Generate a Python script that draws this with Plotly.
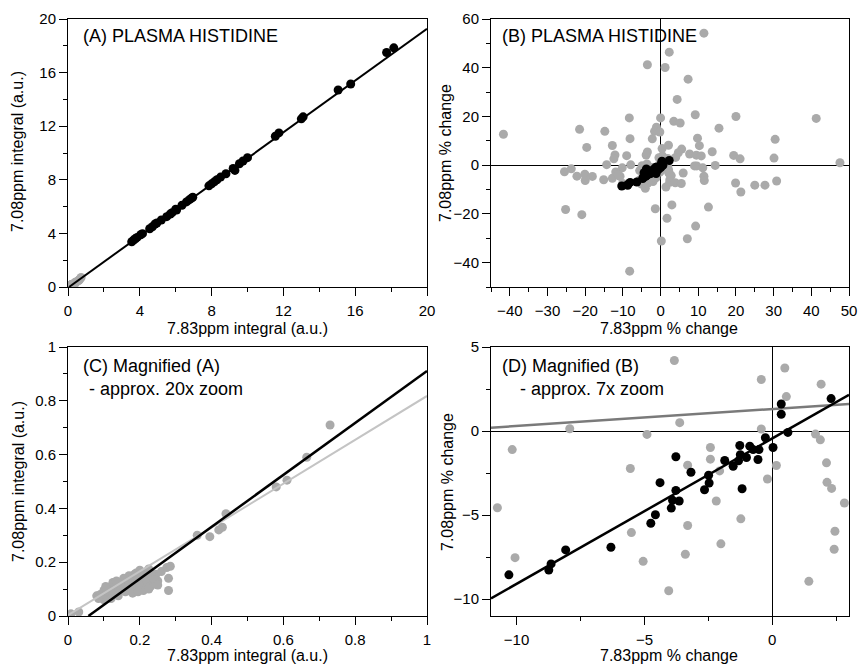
import plotly.graph_objects as go

# ---------------- DATA ----------------
# Panel A/C: integrals (a.u.)
black_int_x = [3.55, 3.65, 3.75, 3.85, 4.05, 4.15, 4.55, 4.7, 4.85, 4.95, 5.2, 5.5, 5.7, 5.8, 6.0, 6.05,
               6.35, 6.6, 6.75, 6.85, 6.95, 7.85, 8.0, 8.15, 8.3, 8.5, 8.8, 9.2, 9.3, 9.55, 9.75, 10.0,
               11.55, 11.75, 13.0, 13.1, 15.05, 15.75, 17.75, 18.15]
black_int_y = [3.38, 3.5, 3.6, 3.7, 3.9, 3.98, 4.35, 4.5, 4.7, 4.78, 5.0, 5.25, 5.45, 5.55, 5.8, 5.75,
               6.1, 6.35, 6.5, 6.6, 6.7, 7.55, 7.7, 7.85, 8.0, 8.2, 8.45, 8.85, 8.7, 9.2, 9.4, 9.65,
               11.25, 11.5, 12.55, 12.7, 14.7, 15.15, 17.5, 17.85]

gray_int_x = [0.0, 0.008, 0.03,
              0.08, 0.09, 0.095, 0.10, 0.10, 0.105, 0.11, 0.11, 0.115, 0.12, 0.12, 0.125, 0.13, 0.13,
              0.135, 0.14, 0.14, 0.145, 0.15, 0.15, 0.155, 0.16, 0.16, 0.165, 0.17, 0.17, 0.175, 0.18,
              0.18, 0.185, 0.19, 0.19, 0.195, 0.20, 0.20, 0.205, 0.21, 0.21, 0.215, 0.22, 0.22, 0.225,
              0.23, 0.235, 0.24, 0.245, 0.25, 0.18, 0.19, 0.14, 0.16, 0.17, 0.12, 0.10, 0.20, 0.21,
              0.155, 0.125, 0.135, 0.195, 0.23, 0.24, 0.085, 0.105, 0.225, 0.25,
              0.26, 0.275, 0.285, 0.28, 0.28, 0.36, 0.395, 0.42, 0.43, 0.44, 0.58, 0.61, 0.665, 0.73]
gray_int_y = [0.0, 0.008, 0.015,
              0.075, 0.08, 0.07, 0.085, 0.095, 0.075, 0.09, 0.105, 0.08, 0.095, 0.11, 0.085, 0.10, 0.115,
              0.09, 0.12, 0.105, 0.095, 0.11, 0.125, 0.10, 0.12, 0.135, 0.105, 0.15, 0.115, 0.13, 0.14,
              0.12, 0.155, 0.16, 0.13, 0.145, 0.17, 0.125, 0.15, 0.14, 0.16, 0.12, 0.15, 0.13, 0.175,
              0.11, 0.14, 0.12, 0.155, 0.13, 0.085, 0.10, 0.075, 0.09, 0.095, 0.065, 0.06, 0.11, 0.095,
              0.14, 0.125, 0.13, 0.09, 0.16, 0.135, 0.065, 0.11, 0.10, 0.115,
              0.165, 0.18, 0.185, 0.14, 0.095, 0.30, 0.295, 0.32, 0.33, 0.38, 0.48, 0.505, 0.59, 0.71]

# Fit lines (slope, intercept)
black_int_fit = (0.966, -0.055)
gray_int_fit = (0.815, 0.003)

# Panel B/D: % change
black_pct_x = [-10.3, -8.74, -8.65, -8.08, -6.31, -4.75, -4.57, -4.39, -3.95, -3.90, -3.77, -3.77, -3.64,
               -3.18, -2.65, -2.49, -2.47, -1.86, -1.53, -1.32, -1.27, -1.25, -1.18, -1.01, -0.88, -0.75,
               -0.56, -0.52, -0.27, 0.03, 0.35, 0.35, 0.61, 2.30]
black_pct_y = [-8.55, -8.27, -7.9, -7.07, -6.91, -5.48, -4.98, -3.07, -4.58, -4.12, -3.53, -1.53, -4.16,
               -2.45, -3.49, -2.63, -3.09, -1.75, -2.09, -1.77, -0.86, -1.41, -3.43, -1.57, -0.90, -1.10,
               -1.69, -1.10, -0.40, -0.98, 1.61, 1.0, -0.08, 1.93]

gray_pct_x = [-10.75, -10.17, -10.06, -7.92, -5.55, -5.51, -5.05, -4.90, -4.05, -3.83, -3.62, -3.40, -3.31,
              -3.31, -2.42, -2.42, -2.19, -2.06, -2.01, -1.23, -0.43, -0.43, -0.19, 0.16, 0.49, 0.55,
              1.43, 1.69, 1.88, 1.91, 2.12, 2.14, 2.32, 2.45, 2.42, 2.82,
              11.5, 2.3, -3.5, 1.2, 7.3, 4.4, -8.3, 0.0, 9.2, 20.0, 41.3, 3.5, 5.2, -21.5, -1.1, -1.6,
              -0.2, 15.5, -14.8, -41.7, -8.1, -2.2, 9.8, 30.4, -12.8, -19.6, 2.1, 10.3, -3.5, -9.0,
              -12.1, -12.4, 5.6, 4.7, 7.7, 9.5, 10.8, 13.7, 0.4, 4.0, 19.4, 21.1, 30.1, 47.6, -14.3,
              9.0, 9.6, 11.2, 14.5, -25.5, -23.7, -22.2, -20.1, -18.1, -20.0, -15.1, -12.8, -11.9,
              -11.2, 6.0, 3.9, 5.5, 11.5, 11.6, 19.9, 21.3, 25.0, 27.7, 30.8, -1.4, 3.0, 12.7, -25.2,
              -20.9, 1.7, 9.3, 7.1, 0.2, -8.2]
gray_pct_y = [-4.56, -1.10, -7.53, 0.14, -2.23, -6.04, -7.75, -0.20, -9.50, 4.20, 0.50, -7.33, -2.03,
              -5.62, -0.98, -1.67, -4.16, -2.37, -6.71, -5.22, 3.07, 0.12, -2.85, -2.05, 3.75, 2.05,
              -8.94, -0.18, -0.52, 2.79, -1.89, -3.05, -3.41, -5.96, -7.03, -4.28,
              54.2, 46.4, 41.2, 40.1, 35.3, 27.0, 19.4, 19.4, 20.7, 20.0, 19.2, 18.0, 17.3, 14.7, 15.6,
              13.9, 13.6, 15.2, 13.9, 12.7, 10.9, 10.8, 11.1, 10.6, 8.1, 7.3, 8.2, 8.0, 5.4, 3.9,
              4.2, 2.6, 6.6, 5.1, 4.6, 4.1, 3.8, 5.5, 6.8, 3.2, 4.0, 2.6, 2.9, 1.0, 0.2,
              -0.3, -0.3, -1.1, -0.1, -2.7, -1.5, -4.5, -3.7, -4.6, -6.3, -6.0, -5.4, -2.8,
              -4.1, -3.2, -7.2, -7.5, -4.5, -6.3, -7.3, -11.0, -8.2, -8.2, -6.5, -17.9, -16.3, -17.2, -18.2,
              -20.3, -21.8, -25.0, -30.2, -31.1, -43.5]

black_pct_fit = (0.865, -0.44)
gray_pct_fit = (0.101, 1.31)

# Axis ranges / ticks
A_range, A_dtick, A_minor = [0, 20], 4, 2
B_xrange, B_yrange = [-45, 50], [-50, 60]
C_range = [0, 1]
D_xrange, D_yrange = [-11, 3], [-11, 5]

# Texts
panel_titles = ["(A) PLASMA HISTIDINE", "(B) PLASMA HISTIDINE", "(C) Magnified (A)", "- approx. 20x zoom",
                "(D) Magnified (B)", "- approx. 7x zoom"]
x_titles = ["7.83ppm integral (a.u.)", "7.83ppm % change", "7.83ppm integral (a.u.)", "7.83ppm % change"]
y_titles = ["7.08ppm integral (a.u.)", "7.08ppm % change", "7.08ppm integral (a.u.)", "7.08ppm % change"]

GRAY = "#aaaaaa"
FONT = "Liberation Sans, Arial, Helvetica, sans-serif"

W, H = 859, 665


def px_dom(a, b, total):
    return [a / total, b / total]


def ydom(top, bottom):
    return [1 - bottom / H, 1 - top / H]


def axis(rng, dtick, minor, dom, anchor, zero=False, is_x=True):
    d = dict(
        range=rng, domain=dom, anchor=anchor, dtick=dtick, tick0=0,
        showline=True, linecolor="black", linewidth=1, mirror=True,
        ticks="outside", ticklen=8, tickwidth=1, tickcolor="black",
        minor=dict(dtick=minor, tick0=0, ticks="outside", ticklen=4, tickwidth=1, tickcolor="black", showgrid=False),
        showgrid=False, zeroline=zero, zerolinecolor="black", zerolinewidth=1,
        tickfont=dict(size=15, color="black", family=FONT),
        automargin=False, fixedrange=True,
    )
    if is_x:
        d["ticklabelstandoff"] = 2
    return d


def line_pts(fit, xr):
    m, c = fit
    return xr, [m * xr[0] + c, m * xr[1] + c]


fig = go.Figure()
mk = dict(size=9, line=dict(width=0))

# Panel A
fig.add_trace(go.Scatter(x=gray_int_x, y=gray_int_y, mode="markers", marker=dict(color=GRAY, **mk), xaxis="x", yaxis="y"))
lx, ly = line_pts(black_int_fit, [-black_int_fit[1] / black_int_fit[0], 20])
fig.add_trace(go.Scatter(x=lx, y=ly, mode="lines", line=dict(color="black", width=2), xaxis="x", yaxis="y"))
fig.add_trace(go.Scatter(x=black_int_x, y=black_int_y, mode="markers", marker=dict(color="black", **mk), xaxis="x", yaxis="y"))

# Panel B
fig.add_trace(go.Scatter(x=gray_pct_x, y=gray_pct_y, mode="markers", marker=dict(color=GRAY, **mk), xaxis="x2", yaxis="y2"))
fig.add_trace(go.Scatter(x=black_pct_x, y=black_pct_y, mode="markers", marker=dict(color="black", **mk), xaxis="x2", yaxis="y2"))

# Panel C
fig.add_trace(go.Scatter(x=gray_int_x, y=gray_int_y, mode="markers", marker=dict(color=GRAY, **mk), xaxis="x3", yaxis="y3"))
lx, ly = line_pts(gray_int_fit, [0, 1])
fig.add_trace(go.Scatter(x=lx, y=ly, mode="lines", line=dict(color="#c4c4c4", width=2), xaxis="x3", yaxis="y3"))
lx, ly = line_pts(black_int_fit, [-black_int_fit[1] / black_int_fit[0], 1])
fig.add_trace(go.Scatter(x=lx, y=ly, mode="lines", line=dict(color="black", width=2.5), xaxis="x3", yaxis="y3"))

# Panel D
fig.add_trace(go.Scatter(x=gray_pct_x, y=gray_pct_y, mode="markers", marker=dict(color=GRAY, **mk), xaxis="x4", yaxis="y4"))
lx, ly = line_pts(gray_pct_fit, D_xrange)
fig.add_trace(go.Scatter(x=lx, y=ly, mode="lines", line=dict(color="#7a7a7a", width=2.5), xaxis="x4", yaxis="y4"))
lx, ly = line_pts(black_pct_fit, D_xrange)
fig.add_trace(go.Scatter(x=lx, y=ly, mode="lines", line=dict(color="black", width=2.5), xaxis="x4", yaxis="y4"))
fig.add_trace(go.Scatter(x=black_pct_x, y=black_pct_y, mode="markers", marker=dict(color="black", **mk), xaxis="x4", yaxis="y4"))

dA_x = px_dom(68, 427, W)
dB_x = px_dom(491, 849, W)
d_top = ydom(19, 287)
d_bot = ydom(347, 616)

fig.update_layout(
    width=W, height=H, margin=dict(l=0, r=0, t=0, b=0, pad=0, autoexpand=False),
    paper_bgcolor="white", plot_bgcolor="white", showlegend=False,
    font=dict(family=FONT, color="black"),
    xaxis=axis(A_range, A_dtick, A_minor, dA_x, "y"),
    yaxis=axis(A_range, A_dtick, A_minor, d_top, "x", is_x=False),
    xaxis2=axis(B_xrange, 10, 5, dB_x, "y2", zero=True),
    yaxis2=axis(B_yrange, 20, 10, d_top, "x2", zero=True, is_x=False),
    xaxis3=axis(C_range, 0.2, 0.1, dA_x, "y3"),
    yaxis3=axis(C_range, 0.2, 0.1, d_bot, "x3", is_x=False),
    xaxis4=axis(D_xrange, 5, 2.5, dB_x, "y4", zero=True),
    yaxis4=axis(D_yrange, 5, 2.5, d_bot, "x4", zero=True, is_x=False),
)


def ann(text, x, y, size=18, anchor="left", angle=0, bg=None):
    d = dict(text=text, xref="paper", yref="paper", x=x / W, y=1 - y / H, xanchor=anchor, yanchor="middle",
             showarrow=False, font=dict(size=size, color="black", family=FONT), borderpad=0, textangle=angle)
    if bg:
        d["bgcolor"] = bg
    return d


anns = [
    ann(panel_titles[0], 82, 36),
    ann(panel_titles[1], 501, 36),
    ann(panel_titles[2], 82, 366),
    ann(panel_titles[3], 88, 389),
    ann(panel_titles[4], 501, 366, bg="white"),
    ann(panel_titles[5], 519, 389),
]
# axis titles
for t, (cx, cy) in zip(x_titles, [(247, 328), (669, 328), (247, 655), (669, 655)]):
    anns.append(ann(t, cx, cy, size=16, anchor="center"))
for t, (cx, cy) in zip(y_titles, [(18, 152), (446, 153), (18, 482), (447, 482)]):
    anns.append(ann(t, cx, cy, size=16, anchor="center", angle=-90))

fig.update_layout(annotations=anns)

fig.write_html("out.html", config={"displayModeBar": False},
               post_script="document.body.style.margin='0px';document.body.style.overflow='hidden';")
